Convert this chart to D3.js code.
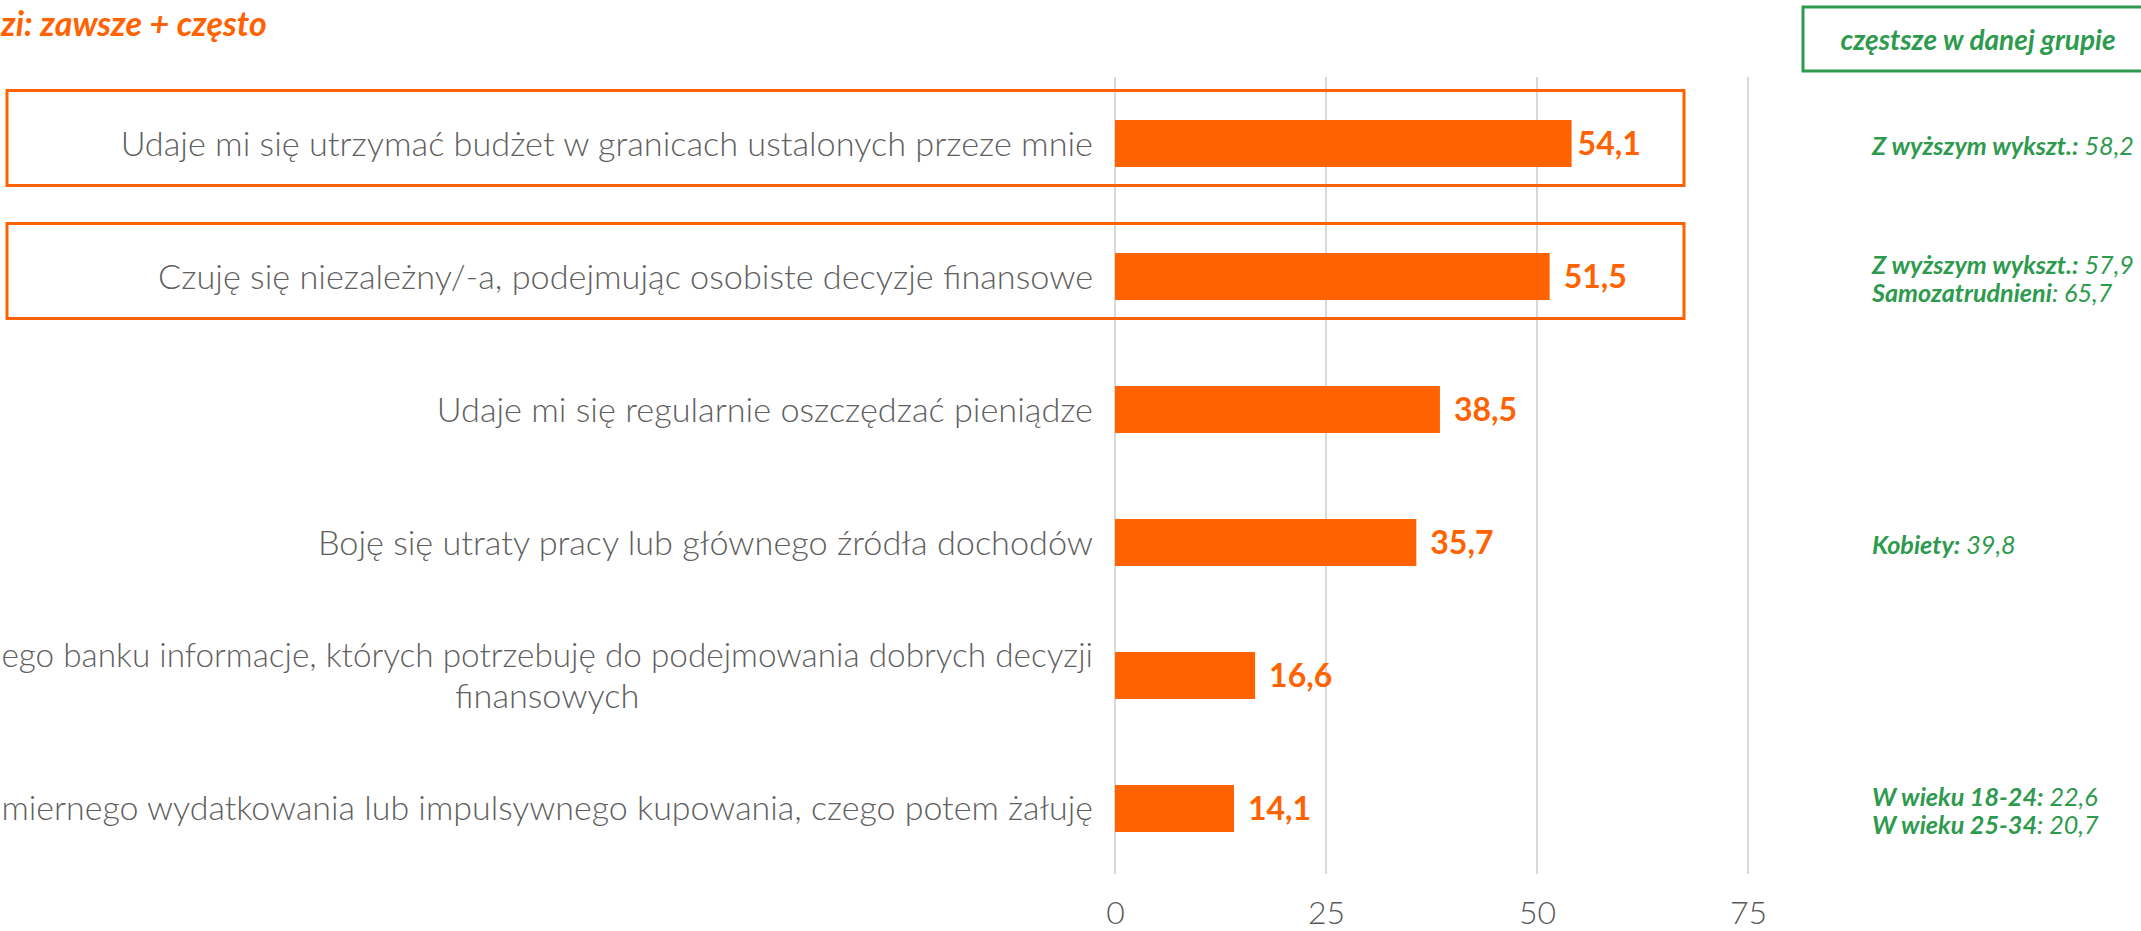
<!DOCTYPE html>
<html>
<head>
<meta charset="utf-8">
<script src="https://cdn.jsdelivr.net/npm/d3@7"></script>
<style>
  html, body { margin: 0; padding: 0; background: #fff; overflow: hidden; }
  svg { display: block; }
</style>
</head>
<body>
<div id="chart"></div>
<script>
// statements (left part of the long ones is cut by the slide frame)
const CATEGORIES = [
  ['Udaje mi się utrzymać budżet w granicach ustalonych przeze mnie'],
  ['Czuję się niezależny/-a, podejmując osobiste decyzje finansowe'],
  ['Udaje mi się regularnie oszczędzać pieniądze'],
  ['Boję się utraty pracy lub głównego źródła dochodów'],
  ['ego banku informacje, których potrzebuję do podejmowania dobrych decyzji', 'finansowych'],
  ['miernego wydatkowania lub impulsywnego kupowania, czego potem żałuję'],
];
const VALUES = [54.1, 51.5, 38.5, 35.7, 16.6, 14.1];
const VALUE_LABELS = ['54,1', '51,5', '38,5', '35,7', '16,6', '14,1'];
const TICKS = [0, 25, 50, 75];
const HIGHLIGHTED = [0, 1];   // rows framed in orange

// groups where the answer is more frequent: [bold part, plain part]
const GROUP_NOTES = [
  [['Z wyższym wykszt.:', ' 58,2']],
  [['Z wyższym wykszt.:', ' 57,9'], ['Samozatrudnieni', ': 65,7']],
  [],
  [['Kobiety:', ' 39,8']],
  [],
  [['W wieku 18-24:', ' 22,6'], ['W wieku 25-34', ': 20,7']],
];

const TITLE = 'zi: zawsze + często';
const LEGEND = 'częstsze w danej grupie';

const W = 2141, H = 931;
const ORANGE = '#FF6200', GREEN = '#2E9A4E', GREY = '#606060', GRID = '#d9d9d9';
const FONT = 'Lato, "Open Sans", sans-serif';

const svg = d3.select('#chart').append('svg')
  .attr('width', W).attr('height', H)
  .attr('viewBox', `0 0 ${W} ${H}`);

const x = d3.scaleLinear().domain([0, 75]).range([1115, 1748]);
const y = d3.scaleBand()
  .domain(d3.range(CATEGORIES.length))
  .range([77, 875])
  .paddingInner(0.647)
  .paddingOuter(0.3235);
const yc = i => y(i) + y.bandwidth() / 2;

// gridlines
svg.append('g').selectAll('line').data(TICKS).join('line')
  .attr('x1', d => x(d)).attr('x2', d => x(d))
  .attr('y1', 77).attr('y2', 874)
  .attr('stroke', GRID).attr('stroke-width', 2);

// x axis labels
const axis = svg.append('g')
  .attr('transform', `translate(0, 924)`)
  .call(d3.axisBottom(x).tickValues(TICKS).tickSize(0).tickPadding(0));
axis.select('.domain').remove();
axis.selectAll('text')
  .attr('dy', 0).attr('y', 0)
  .attr('font-family', FONT).attr('font-weight', 300)
  .attr('font-size', 32).attr('fill', '#595959');

// bars
svg.append('g').selectAll('rect').data(VALUES).join('rect')
  .attr('x', x(0))
  .attr('y', (d, i) => y(i))
  .attr('width', d => x(d) - x(0))
  .attr('height', y.bandwidth())
  .attr('fill', ORANGE);

// value labels
svg.append('g').selectAll('text').data(VALUES).join('text')
  .attr('x', (d, i) => x(d) + (i === 0 ? 6 : 14))
  .attr('y', (d, i) => yc(i))
  .attr('dy', '0.36em')
  .attr('font-family', FONT).attr('font-weight', 700)
  .attr('font-size', 32).attr('fill', ORANGE)
  .text((d, i) => VALUE_LABELS[i]);

// fit a font size so that a sample string gets a given width
function fitSize(parent, str, base, target) {
  const t = parent.append('text').attr('font-size', base).text(str);
  const s = base * target / t.node().getComputedTextLength();
  t.remove();
  return s;
}

// category labels: right-aligned block, wrapped lines centred within it
const labelRight = 1093, lineH = 41, maxW = labelRight - 2;
const labels = svg.append('g')
  .attr('font-family', FONT).attr('font-weight', 300)
  .attr('fill', GREY);
const labelSize = fitSize(labels, CATEGORIES[0][0], 31, 973);
labels.attr('font-size', labelSize);

CATEGORIES.forEach((lines, i) => {
  const g = labels.append('g');
  const n = lines.length;
  const texts = lines.map((ln, k) => g.append('text')
    .attr('y', yc(i) + (k - (n - 1) / 2) * lineH)
    .attr('dy', '0.35em')
    .text(ln));
  // the cut-off statements just fill the frame width
  texts.forEach(t => {
    const w = t.node().getComputedTextLength();
    if (w > maxW) t.attr('font-size', labelSize * maxW / w);
  });
  const blockW = d3.max(texts, t => t.node().getComputedTextLength());
  texts.forEach(t => t.attr('text-anchor', 'middle').attr('x', labelRight - blockW / 2));
});

// orange frames round highlighted rows
svg.append('g').selectAll('rect').data(HIGHLIGHTED).join('rect')
  .attr('x', 7)
  .attr('y', i => yc(i) - 53)
  .attr('width', 1684 - 7)
  .attr('height', 95)
  .attr('fill', 'none')
  .attr('stroke', ORANGE).attr('stroke-width', 3);

// title (cut by the slide edge)
svg.append('text')
  .attr('x', 1).attr('y', 36)
  .attr('font-family', FONT).attr('font-weight', 700).attr('font-style', 'italic')
  .attr('font-size', 34).attr('fill', ORANGE)
  .text(TITLE);

// legend box
svg.append('rect')
  .attr('x', 1803).attr('y', 7).attr('width', 400).attr('height', 64)
  .attr('fill', 'none').attr('stroke', GREEN).attr('stroke-width', 3);
svg.append('text')
  .attr('x', 1978).attr('y', 40).attr('dy', '0.35em')
  .attr('text-anchor', 'middle')
  .attr('font-family', FONT).attr('font-weight', 700).attr('font-style', 'italic')
  .attr('font-size', 28).attr('fill', GREEN)
  .text(LEGEND);

// group notes on the right
const notes = svg.append('g')
  .attr('font-family', FONT).attr('font-style', 'italic')
  .attr('font-weight', 700).attr('fill', GREEN);
const noteSize = Math.min(26, fitSize(notes, 'Z wyższym wykszt.: 58,2', 24, 262));
notes.attr('font-size', noteSize);
GROUP_NOTES.forEach((lines, i) => {
  const n = lines.length;
  lines.forEach(([b, r], k) => {
    const t = notes.append('text')
      .attr('x', 1872)
      .attr('y', yc(i) + 3 + (k - (n - 1) / 2) * 28)
      .attr('dy', '0.35em');
    t.append('tspan').attr('font-weight', 700).text(b);
    t.append('tspan').attr('font-weight', 400).text(r);
  });
});
</script>
</body>
</html>
